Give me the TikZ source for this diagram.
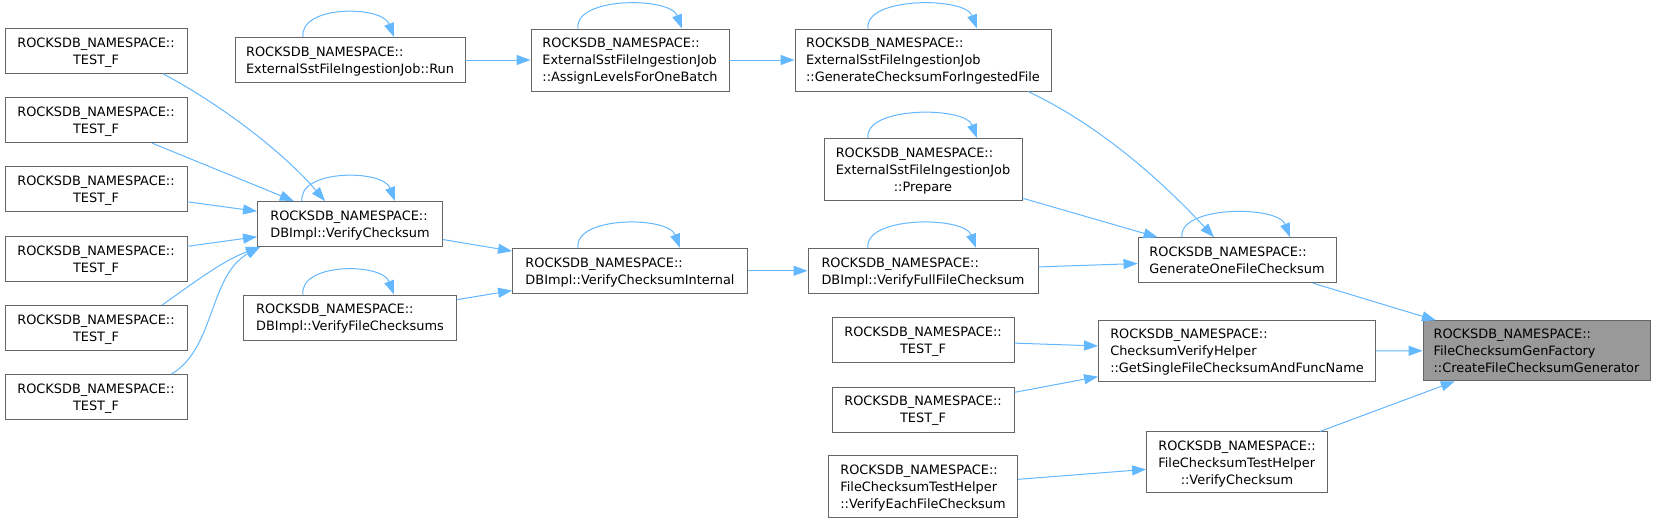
\documentclass[tikz,border=0pt]{standalone}
\usepackage{fontspec}
\setmainfont{DejaVu Sans}
\usepackage{tikz}
\usetikzlibrary{arrows.meta}
\usepackage{xcolor}
\definecolor{doxblue}{RGB}{99,184,255}
\definecolor{doxgrey}{RGB}{102,102,102}
\definecolor{doxfill}{RGB}{153,153,153}
\newcommand{\fnlabel}[2]{\raisebox{-1.5pt}[\height][\depth]{\begin{tabular}{@{}l@{}}#1\\\multicolumn{1}{@{}c@{}}{#2}\end{tabular}}}

\begin{document}
\begin{tikzpicture}[
    x=1pt, y=-1pt,
    box/.style={draw=doxgrey, fill=white, line width=0.9pt, inner sep=0pt, minimum height=45pt, font=\fontsize{12.9}{17}\selectfont},
    arrow/.style={-{Triangle[length=14pt,width=10pt]}, draw=doxblue, line width=1pt}
]
\fill[white] (0,0) rectangle (1656,523);
\useasboundingbox (0,0) rectangle (1656,523);

% Tests on the left
\node[box, minimum width=182pt] (t1) at (96,50.8) {\fnlabel{ROCKSDB\_NAMESPACE::}{TEST\_F}};
\node[box, minimum width=182pt] (t2) at (96,120.2) {\fnlabel{ROCKSDB\_NAMESPACE::}{TEST\_F}};
\node[box, minimum width=182pt] (t3) at (96,189.3) {\fnlabel{ROCKSDB\_NAMESPACE::}{TEST\_F}};
\node[box, minimum width=182pt] (t4) at (96,258.8) {\fnlabel{ROCKSDB\_NAMESPACE::}{TEST\_F}};
\node[box, minimum width=182pt] (t5) at (96,328) {\fnlabel{ROCKSDB\_NAMESPACE::}{TEST\_F}};
\node[box, minimum width=182pt] (t6) at (96,397.2) {\fnlabel{ROCKSDB\_NAMESPACE::}{TEST\_F}};

% Second column
\node[box, minimum width=230pt] (run) at (350,60) {\fnlabel{ROCKSDB\_NAMESPACE::}{ExternalSstFileIngestionJob::Run}};
\node[box, minimum width=185pt] (vc) at (350,224) {\fnlabel{ROCKSDB\_NAMESPACE::}{DBImpl::VerifyChecksum}};
\node[box, minimum width=213pt] (vfcs) at (350,317.5) {\fnlabel{ROCKSDB\_NAMESPACE::}{DBImpl::VerifyFileChecksums}};

% Third column
\node[box, minimum width=198pt, minimum height=62pt] (al) at (630,60) {\fnlabel{ROCKSDB\_NAMESPACE::\\ExternalSstFileIngestionJob}{::AssignLevelsForOneBatch}};
\node[box, minimum width=235pt] (vci) at (630,270.8) {\fnlabel{ROCKSDB\_NAMESPACE::}{DBImpl::VerifyChecksumInternal}};

% Fourth column
\node[box, minimum width=256pt, minimum height=62pt] (gc) at (923,60) {\fnlabel{ROCKSDB\_NAMESPACE::\\ExternalSstFileIngestionJob}{::GenerateChecksumForIngestedFile}};
\node[box, minimum width=198pt, minimum height=62pt] (prep) at (923,169.5) {\fnlabel{ROCKSDB\_NAMESPACE::\\ExternalSstFileIngestionJob}{::Prepare}};
\node[box, minimum width=230pt] (vffc) at (923,270.8) {\fnlabel{ROCKSDB\_NAMESPACE::}{DBImpl::VerifyFullFileChecksum}};
\node[box, minimum width=182pt] (t7) at (923,340) {\fnlabel{ROCKSDB\_NAMESPACE::}{TEST\_F}};
\node[box, minimum width=182pt] (t8) at (923,409.5) {\fnlabel{ROCKSDB\_NAMESPACE::}{TEST\_F}};
\node[box, minimum width=189pt, minimum height=62pt] (vefc) at (923,486.7) {\fnlabel{ROCKSDB\_NAMESPACE::\\FileChecksumTestHelper}{::VerifyEachFileChecksum}};

% Fifth column
\node[box, minimum width=198pt] (gofc) at (1237,260.2) {\fnlabel{ROCKSDB\_NAMESPACE::}{GenerateOneFileChecksum}};
\node[box, minimum width=277pt, minimum height=61pt] (gsf) at (1237,350.7) {\fnlabel{ROCKSDB\_NAMESPACE::\\ChecksumVerifyHelper}{::GetSingleFileChecksumAndFuncName}};
\node[box, minimum width=181pt, minimum height=61pt] (fvc) at (1237,462.3) {\fnlabel{ROCKSDB\_NAMESPACE::\\FileChecksumTestHelper}{::VerifyChecksum}};

% Target
\node[box, fill=doxfill, minimum width=227pt, minimum height=60pt] (cfcg) at (1536.5,350.8) {\fnlabel{ROCKSDB\_NAMESPACE::\\FileChecksumGenFactory}{::CreateFileChecksumGenerator}};

% Calls into VerifyChecksum
\draw[arrow] ([xshift=67pt]t1.south) .. controls +(62,33) and +(-39,-46) .. ([xshift=-25pt]vc.north);
\draw[arrow] (t2) -- (vc);
\draw[arrow] (t3) -- (vc);
\draw[arrow] (t4) -- (vc);
\draw[arrow] ([xshift=66pt]t5.north) .. controls +(33,-23) and +(-38,14) .. ([xshift=3pt]vc.south west);
\draw[arrow] ([xshift=75pt]t6.north) .. controls +(44,-25) and +(-51,28) .. ([xshift=3pt]vc.south west);

% Straight calls
\draw[arrow] (run) -- (al);
\draw[arrow] (al) -- (gc);
\draw[arrow] (vc) -- (vci);
\draw[arrow] (vfcs) -- (vci);
\draw[arrow] (vci) -- (vffc);
\draw[arrow] ([xshift=105pt]gc.south) .. controls +(72,34) and +(-52,-56) .. ([xshift=-23pt]gofc.north);
\draw[arrow] (prep) -- (gofc);
\draw[arrow] (vffc) -- (gofc);
\draw[arrow] (t7) -- (gsf);
\draw[arrow] (t8) -- (gsf);
\draw[arrow] (vefc) -- (fvc);
\draw[arrow] (gofc) -- (cfcg);
\draw[arrow] (gsf) -- (cfcg);
\draw[arrow] (fvc) -- (cfcg);

% Recursive calls
\draw[arrow] ([xshift=-47pt]run.north) .. controls +(-4,-32) and +(-12,-32) .. ([xshift=44pt]run.north);
\draw[arrow] ([xshift=-48pt]vc.north) .. controls +(-4,-32) and +(-12,-32) .. ([xshift=45pt]vc.north);
\draw[arrow] ([xshift=-47pt]vfcs.north) .. controls +(-4,-32) and +(-12,-32) .. ([xshift=44pt]vfcs.north);
\draw[arrow] ([xshift=-52pt]al.north) .. controls +(-4,-32) and +(-12,-32) .. ([xshift=52pt]al.north);
\draw[arrow] ([xshift=-52pt]vci.north) .. controls +(-4,-32) and +(-12,-32) .. ([xshift=50pt]vci.north);
\draw[arrow] ([xshift=-55pt]gc.north) .. controls +(-4,-32) and +(-12,-32) .. ([xshift=54pt]gc.north);
\draw[arrow] ([xshift=-55pt]prep.north) .. controls +(-4,-32) and +(-12,-32) .. ([xshift=54pt]prep.north);
\draw[arrow] ([xshift=-55pt]vffc.north) .. controls +(-4,-32) and +(-12,-32) .. ([xshift=53pt]vffc.north);
\draw[arrow] ([xshift=-55pt]gofc.north) .. controls +(-4,-32) and +(-12,-32) .. ([xshift=53pt]gofc.north);

\end{tikzpicture}
\end{document}
